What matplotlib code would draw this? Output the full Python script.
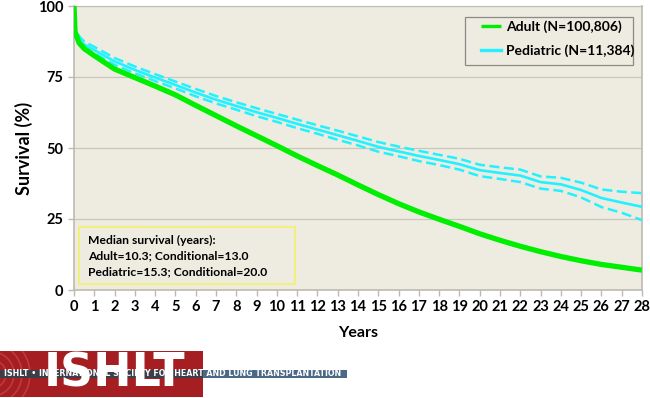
import numpy as np
import matplotlib.pyplot as plt
from matplotlib.patches import Rectangle, Arc

# survival curves (years, %)
years = [0, 0.05, 0.25, 0.5, 1, 2, 3, 4, 5, 6, 7, 8, 9, 10, 11, 12, 13, 14,
         15, 16, 17, 18, 19, 20, 21, 22, 23, 24, 25, 26, 27, 28]
adult = [100, 91, 87, 85, 82.5, 77.8, 74.8, 71.8, 68.7, 65.0, 61.4, 57.8, 54.3,
         50.8, 47.2, 43.8, 40.5, 37.0, 33.6, 30.4, 27.5, 24.9, 22.4, 19.8, 17.5,
         15.4, 13.5, 11.8, 10.3, 9.0, 8.0, 7.0]
pediatric = [100, 91.5, 88.5, 86.5, 84.5, 80.5, 77.5, 74.8, 72.2, 69.5, 67.0,
             64.8, 62.6, 60.6, 58.5, 56.5, 54.5, 52.5, 50.4, 48.8, 47.2, 45.8,
             44.3, 42.2, 41.2, 40.3, 38.0, 37.2, 35.2, 32.4, 30.8, 29.3]
ped_upper = [100, 92.1, 89.4, 87.5, 85.6, 81.7, 78.7, 76.0, 73.4, 70.8, 68.3,
             66.1, 64.0, 62.0, 60.0, 58.0, 56.1, 54.1, 52.1, 50.5, 49.0, 47.6,
             46.2, 44.1, 43.2, 42.4, 40.0, 39.5, 37.8, 35.4, 34.6, 34.1]
ped_lower = [100, 90.9, 87.6, 85.5, 83.4, 79.3, 76.3, 73.6, 71.0, 68.2, 65.7,
             63.5, 61.2, 59.2, 57.0, 55.0, 52.9, 50.9, 48.7, 47.1, 45.4, 44.0,
             42.4, 40.1, 39.1, 38.0, 35.7, 34.9, 32.6, 29.2, 27.2, 24.6]

labels = ["Adult (N=100,806)", "Pediatric (N=11,384)"]
median_text = ("Median survival (years):\n"
               "Adult=10.3; Conditional=13.0\n"
               "Pediatric=15.3; Conditional=20.0")

bg = "#eeebe1"
green = "#00ee00"
cyan = "#22f2ff"
font = "Lato"

fig = plt.figure(figsize=(6.5, 3.98), dpi=100)
ax = fig.add_axes([74 / 650, 1 - 290 / 398, 568 / 650, 284 / 398])
ax.set_facecolor(bg)

ax.plot(years, adult, color=green, lw=3.8, solid_capstyle="butt", label=labels[0], zorder=4)
ax.plot(years, pediatric, color=cyan, lw=1.9, label=labels[1], zorder=3)
ax.plot(years, ped_upper, color=cyan, lw=1.8, ls=(0, (4, 1.8)), zorder=3)
ax.plot(years, ped_lower, color=cyan, lw=1.8, ls=(0, (4, 1.8)), zorder=3)

ax.set_xlim(0, 28)
ax.set_ylim(0, 100)
ax.set_xticks(range(0, 29))
ax.set_yticks([0, 25, 50, 75, 100])
ax.grid(axis="y", color="#c9c6bc", lw=0.9)
ax.set_axisbelow(True)
for side in ["left", "bottom", "right", "top"]:
    ax.spines[side].set_color("#bdbab2")
    ax.spines[side].set_linewidth(1.2)
ax.spines["top"].set_linewidth(0.8)
ax.tick_params(colors="#bdbab2", length=4, width=1, labelcolor="black")
for lbl in ax.get_xticklabels() + ax.get_yticklabels():
    lbl.set_fontfamily(font)
    lbl.set_fontweight("bold")
    lbl.set_fontsize(10.5)

ax.set_xlabel("Years", fontfamily=font, fontweight="bold", fontsize=11.5, labelpad=8)
ax.set_ylabel("Survival (%)", fontfamily=font, fontweight="bold", fontsize=13, labelpad=4)

# legend with a hand-placed frame so the padding matches
ax.add_patch(Rectangle((0.688, 0.792), 0.296, 0.169, transform=ax.transAxes,
                       facecolor=bg, edgecolor="#8c8a84", lw=0.9, zorder=5))
leg = ax.legend(loc="upper left", bbox_to_anchor=(0.716, 0.950), frameon=False,
                prop={"family": font, "weight": "bold", "size": 10},
                handlelength=1.45, handletextpad=0.35, labelspacing=0.8,
                borderpad=0, borderaxespad=0)
leg.set_zorder(6)
for ln in leg.get_lines():
    ln.set_linewidth(2.4)

# median survival note
ax.add_patch(Rectangle((0.0088, 0.021), 0.380, 0.201, transform=ax.transAxes,
                       facecolor=bg, edgecolor="#f5f06a", lw=1.2, zorder=5))
ax.text(0.0246, 0.12, median_text, transform=ax.transAxes, va="center", ha="left",
        fontfamily=font, fontweight="bold", fontsize=8.7, linespacing=1.5, zorder=6)

# ISHLT logo strip at the bottom
lax = fig.add_axes([0, 0, 1, 50 / 398])
lax.set_xlim(0, 650)
lax.set_ylim(0, 50)
lax.axis("off")
red_box = Rectangle((0, 1), 203, 46, facecolor="#a41e22", edgecolor="none")
lax.add_patch(red_box)
for r in [14, 22, 30, 38]:
    arc = Arc((-8, 24), 2 * r, 2 * r, theta1=-70, theta2=70, color="#c2383c", lw=1.2)
    lax.add_patch(arc)
    arc.set_clip_path(red_box)
lax.text(115, 24, "ISHLT", color="white", fontfamily="DejaVu Sans", fontweight="bold",
         fontsize=33, ha="center", va="center")
lax.add_patch(Rectangle((0, 20), 203, 8, facecolor="#3c3f4a", edgecolor="none"))
lax.add_patch(Rectangle((203, 20), 144, 8, facecolor="#4b6987", edgecolor="none"))
lax.text(4, 24, "ISHLT \u2022 INTERNATIONAL SOCIETY FOR HEART AND LUNG TRANSPLANTATION",
         color="white", fontfamily="DejaVu Sans", fontweight="bold", fontsize=5.7,
         ha="left", va="center")

fig.savefig("out.png", dpi=100)
